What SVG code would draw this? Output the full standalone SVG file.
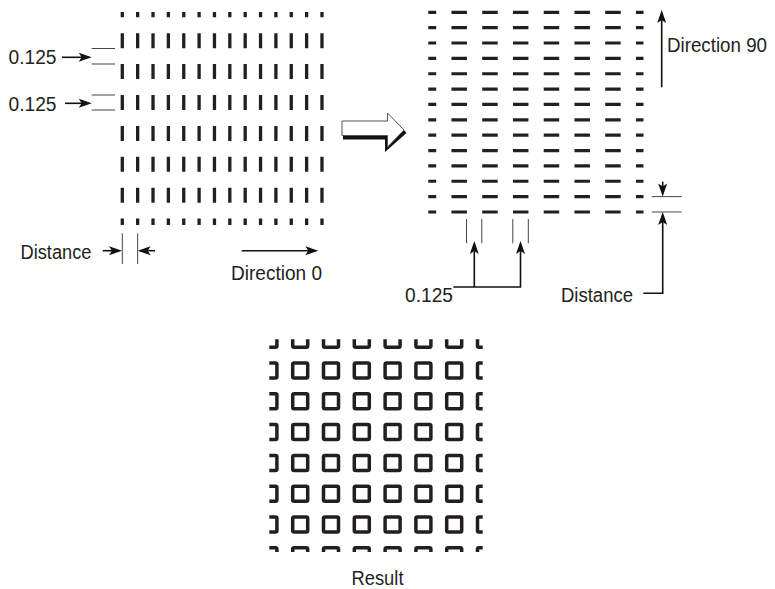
<svg xmlns="http://www.w3.org/2000/svg" xmlns:xlink="http://www.w3.org/1999/xlink" width="775" height="589" viewBox="0 0 775 589">
  <style>
    text { font-family: "Liberation Sans", Arial, sans-serif; font-size: 19.5px; fill: #231f20; }
    .vdash { stroke: #231f20; stroke-width: 3.3; stroke-dasharray: 15 15.9; stroke-dashoffset: 9.7; fill: none; }
    .hdash { stroke: #231f20; stroke-width: 3.2; stroke-dasharray: 15.5 15.25; stroke-dashoffset: 7.6; fill: none; }
    .hair { stroke: #444; stroke-width: 1; fill: none; }
    .arr { stroke: #111; stroke-width: 1.6; fill: none; marker-end: url(#ah); }
    .sq { fill: none; stroke: #231f20; stroke-width: 3.5; }
  </style>
  <defs>
    <marker id="ah" markerUnits="userSpaceOnUse" markerWidth="14" markerHeight="10" refX="10" refY="4.5" orient="auto" overflow="visible">
      <path d="M0,0 L13,4.5 L0,9 L3,4.5 Z" fill="#111"/>
    </marker>
    <clipPath id="resclip">
      <rect x="269.3" y="339.3" width="213.4" height="212.7"/>
    </clipPath>
    <g id="sqrow">
      <rect class="sq" x="261.9" y="-7.5" width="15" height="15" rx="1.5"/>
      <rect class="sq" x="292.7" y="-7.5" width="15" height="15" rx="1.5"/>
      <rect class="sq" x="323.5" y="-7.5" width="15" height="15" rx="1.5"/>
      <rect class="sq" x="354.3" y="-7.5" width="15" height="15" rx="1.5"/>
      <rect class="sq" x="385.1" y="-7.5" width="15" height="15" rx="1.5"/>
      <rect class="sq" x="415.9" y="-7.5" width="15" height="15" rx="1.5"/>
      <rect class="sq" x="446.7" y="-7.5" width="15" height="15" rx="1.5"/>
      <rect class="sq" x="477.5" y="-7.5" width="15" height="15" rx="1.5"/>
    </g>
  </defs>

  <!-- Left hatch (Direction 0) -->
  <g id="hatch-direction-0">
    <line class="vdash" x1="122.3" y1="12" x2="122.3" y2="225"/>
    <line class="vdash" x1="137.66" y1="12" x2="137.66" y2="225"/>
    <line class="vdash" x1="153.02" y1="12" x2="153.02" y2="225"/>
    <line class="vdash" x1="168.38" y1="12" x2="168.38" y2="225"/>
    <line class="vdash" x1="183.74" y1="12" x2="183.74" y2="225"/>
    <line class="vdash" x1="199.1" y1="12" x2="199.1" y2="225"/>
    <line class="vdash" x1="214.46" y1="12" x2="214.46" y2="225"/>
    <line class="vdash" x1="229.82" y1="12" x2="229.82" y2="225"/>
    <line class="vdash" x1="245.18" y1="12" x2="245.18" y2="225"/>
    <line class="vdash" x1="260.54" y1="12" x2="260.54" y2="225"/>
    <line class="vdash" x1="275.9" y1="12" x2="275.9" y2="225"/>
    <line class="vdash" x1="291.26" y1="12" x2="291.26" y2="225"/>
    <line class="vdash" x1="306.62" y1="12" x2="306.62" y2="225"/>
    <line class="vdash" x1="321.98" y1="12" x2="321.98" y2="225"/>
  </g>

  <!-- Right hatch (Direction 90) -->
  <g id="hatch-direction-90">
    <line class="hdash" x1="428.3" y1="12.3" x2="643.5" y2="12.3"/>
    <line class="hdash" x1="428.3" y1="27.66" x2="643.5" y2="27.66"/>
    <line class="hdash" x1="428.3" y1="43.02" x2="643.5" y2="43.02"/>
    <line class="hdash" x1="428.3" y1="58.38" x2="643.5" y2="58.38"/>
    <line class="hdash" x1="428.3" y1="73.74" x2="643.5" y2="73.74"/>
    <line class="hdash" x1="428.3" y1="89.1" x2="643.5" y2="89.1"/>
    <line class="hdash" x1="428.3" y1="104.46" x2="643.5" y2="104.46"/>
    <line class="hdash" x1="428.3" y1="119.82" x2="643.5" y2="119.82"/>
    <line class="hdash" x1="428.3" y1="135.18" x2="643.5" y2="135.18"/>
    <line class="hdash" x1="428.3" y1="150.54" x2="643.5" y2="150.54"/>
    <line class="hdash" x1="428.3" y1="165.9" x2="643.5" y2="165.9"/>
    <line class="hdash" x1="428.3" y1="181.26" x2="643.5" y2="181.26"/>
    <line class="hdash" x1="428.3" y1="196.62" x2="643.5" y2="196.62"/>
    <line class="hdash" x1="428.3" y1="211.98" x2="643.5" y2="211.98"/>
  </g>

  <!-- Big hollow arrow -->
  <g id="transform-arrow">
    <polygon points="343,135.5 387.5,135.5 404,130 406.5,133 385,152 385,139.5 343,139.5" fill="#111"/>
    <polygon points="342,121 387.5,121 387.5,113 404,130 387.5,147 387.5,135.5 342,135.5" fill="#fff" stroke="#555" stroke-width="1"/>
  </g>

  <!-- Result -->
  <g id="result">
    <g clip-path="url(#resclip)">
      <use xlink:href="#sqrow" transform="translate(0,339.7)"/>
      <use xlink:href="#sqrow" transform="translate(0,370.5)"/>
      <use xlink:href="#sqrow" transform="translate(0,401.3)"/>
      <use xlink:href="#sqrow" transform="translate(0,432.1)"/>
      <use xlink:href="#sqrow" transform="translate(0,462.9)"/>
      <use xlink:href="#sqrow" transform="translate(0,493.7)"/>
      <use xlink:href="#sqrow" transform="translate(0,524.5)"/>
      <use xlink:href="#sqrow" transform="translate(0,555.3)"/>
    </g>
    <text x="351.5" y="585" textLength="52" lengthAdjust="spacingAndGlyphs">Result</text>
  </g>

  <!-- Labels -->
  <g id="label-0125-a"><text x="8.5" y="64.3" textLength="48" lengthAdjust="spacingAndGlyphs">0.125</text></g>
  <g id="label-0125-b"><text x="8.5" y="111" textLength="48" lengthAdjust="spacingAndGlyphs">0.125</text></g>
  <g id="label-distance-left"><text x="20.5" y="259.3" textLength="71" lengthAdjust="spacingAndGlyphs">Distance</text></g>
  <g id="label-direction-0"><text x="231" y="280" textLength="91" lengthAdjust="spacingAndGlyphs">Direction 0</text></g>
  <g id="label-direction-90"><text x="667" y="51.7" textLength="100" lengthAdjust="spacingAndGlyphs">Direction 90</text></g>
  <g id="label-0125-c"><text x="405" y="301.5" textLength="48" lengthAdjust="spacingAndGlyphs">0.125</text></g>
  <g id="label-distance-right"><text x="561" y="301.7" textLength="72" lengthAdjust="spacingAndGlyphs">Distance</text></g>

  <!-- Connectors / dimension lines -->
  <g id="connectors">
    <line class="hair" x1="91.7" y1="48.5" x2="115" y2="48.5"/>
    <line class="hair" x1="91.7" y1="64" x2="115" y2="64"/>
    <line class="hair" x1="91.7" y1="95" x2="115" y2="95"/>
    <line class="hair" x1="91.7" y1="110" x2="115" y2="110"/>
    <line class="arr" x1="62" y1="57.3" x2="88.7" y2="57.3"/>
    <line class="arr" x1="65" y1="103.3" x2="88.7" y2="103.3"/>
    <line class="hair" x1="122.3" y1="233.3" x2="122.3" y2="264"/>
    <line class="hair" x1="137.66" y1="233.3" x2="137.66" y2="264"/>
    <line class="arr" x1="102.7" y1="250.7" x2="119" y2="250.7"/>
    <line class="arr" x1="155" y1="250.7" x2="140.66" y2="250.7"/>
    <line class="arr" x1="241.7" y1="250.7" x2="315.3" y2="250.7"/>
    <line class="arr" x1="661.7" y1="87.3" x2="661.7" y2="13"/>
    <line class="hair" x1="651.7" y1="196.62" x2="681.7" y2="196.62"/>
    <line class="hair" x1="651.7" y1="211.98" x2="681.7" y2="211.98"/>
    <line class="arr" x1="662.7" y1="181.7" x2="662.7" y2="193.6"/>
    <polyline class="arr" points="643.3,293.3 662.7,293.3 662.7,215"/>
    <line class="hair" x1="466.5" y1="219" x2="466.5" y2="243.3"/>
    <line class="hair" x1="481.8" y1="219" x2="481.8" y2="243.3"/>
    <line class="hair" x1="512.8" y1="219" x2="512.8" y2="243.3"/>
    <line class="hair" x1="528.3" y1="219" x2="528.3" y2="243.3"/>
    <polyline class="arr" points="453.3,287 520.5,287 520.5,244"/>
    <line class="arr" x1="474.3" y1="287" x2="474.3" y2="244"/>
  </g>
</svg>
